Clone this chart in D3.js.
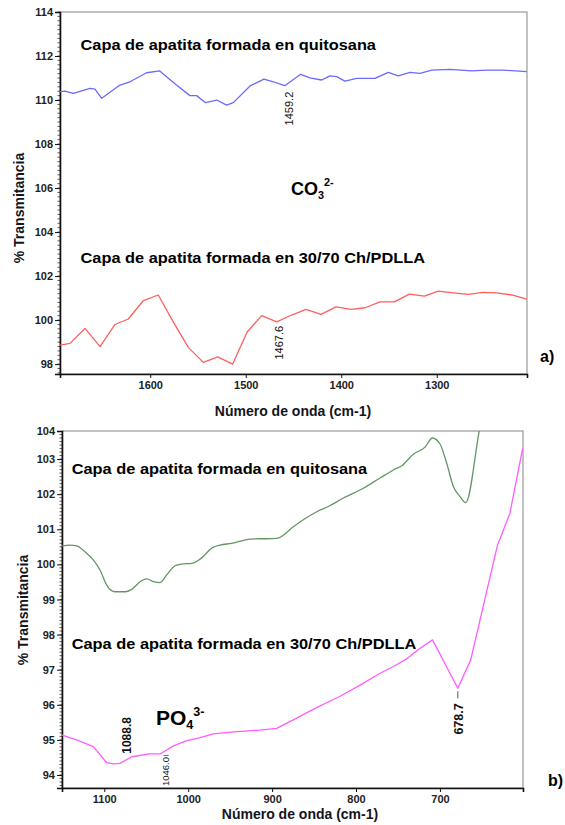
<!DOCTYPE html>
<html>
<head>
<meta charset="utf-8">
<script src="https://cdn.jsdelivr.net/npm/d3@7"></script>
<style>
  html, body { margin: 0; padding: 0; background: #fff; }
  svg { display: block; font-family: "Liberation Sans", Arial, sans-serif; }
</style>
</head>
<body>
<svg id="fig" width="565" height="825"></svg>
<script>
// ---------- Panel a) carbonate region ----------
const blueWn = [1694.5,1689.3,1680.6,1663.1,1657.9,1650.8,1631.7,1621.3,1603.7,1590.1,1572.6,1558.4,1551.4,1542.1,1530.4,1520.0,1513.0,1495.5,1480.9,1471.1,1459.2,1442.5,1432.8,1420.5,1411.8,1404.8,1396.1,1383.9,1364.7,1350.7,1340.3,1328.0,1317.5,1305.3,1286.1,1263.4,1247.7,1230.3,1205.8];
const blueT  = [110.38,110.40,110.30,110.53,110.50,110.08,110.68,110.83,111.24,111.32,110.68,110.20,110.20,109.88,110.00,109.77,109.88,110.64,110.95,110.83,110.65,111.17,111.01,110.91,111.10,111.06,110.86,110.98,110.98,111.26,111.10,111.26,111.21,111.36,111.39,111.32,111.36,111.36,111.29];

const redWn = [1694.5,1684.0,1668.3,1652.6,1636.9,1623.0,1607.3,1591.6,1575.9,1560.2,1544.4,1529.4,1513.7,1498.4,1483.3,1467.6,1451.9,1436.9,1421.2,1405.5,1389.8,1375.1,1359.4,1344.4,1328.7,1313.0,1298.3,1282.6,1266.8,1251.8,1237.2,1221.4,1205.8];
const redT  = [98.86,98.94,99.62,98.79,99.80,100.05,100.88,101.14,99.92,98.76,98.08,98.33,98.00,99.47,100.20,99.92,100.23,100.49,100.26,100.60,100.49,100.56,100.83,100.83,101.18,101.09,101.32,101.24,101.17,101.26,101.24,101.14,100.95];

const topXTicks = [1600, 1500, 1400, 1300];
const topYTicks = [98, 100, 102, 104, 106, 108, 110, 112, 114];

// ---------- Panel b) phosphate region ----------
const greenWn = [1150.4,1140.9,1132.9,1123.0,1113.1,1105.1,1097.1,1087.2,1075.3,1067.3,1055.4,1049.4,1041.6,1033.6,1025.6,1015.7,1007.7,995.8,985.9,970.1,962.1,948.1,926.3,914.4,906.4,894.5,874.7,862.8,846.8,833.0,815.1,791.3,771.4,755.5,745.5,731.7,717.7,709.0,699.9,691.9,684.0,676.0,669.2,653.0,647.4];
const greenT  = [100.53,100.55,100.53,100.36,100.13,99.84,99.41,99.22,99.22,99.29,99.54,99.59,99.51,99.48,99.70,99.96,100.01,100.03,100.15,100.49,100.55,100.60,100.72,100.73,100.73,100.74,101.07,101.27,101.50,101.65,101.89,102.17,102.46,102.69,102.81,103.14,103.34,103.60,103.43,102.88,102.22,101.93,101.76,103.83,104.54];

const pinkWn = [1150.4,1132.9,1113.1,1097.1,1088.8,1081.3,1067.3,1046.0,1033.6,1017.5,1001.8,987.9,970.1,946.2,914.4,894.5,874.7,848.9,820.2,795.2,771.4,755.5,739.6,723.7,708.8,678.7,663.3,631.6,616.6,601.3];
const pinkT  = [95.14,95.00,94.81,94.35,94.32,94.33,94.52,94.60,94.60,94.83,94.98,95.05,95.17,95.23,95.28,95.33,95.57,95.90,96.23,96.56,96.90,97.09,97.31,97.61,97.85,96.47,97.28,100.53,101.46,103.31];

const botXTicks = [1100, 1000, 900, 800, 700];
const botYTicks = [94, 95, 96, 97, 98, 99, 100, 101, 102, 103, 104];

const FONT = '"Liberation Sans", Arial, sans-serif';
const svg = d3.select('#fig');

function zip(wn, t) { return wn.map((w, i) => ({ wn: w, t: t[i] })); }
function valueAt(wn, t, w) { return t[wn.indexOf(w)]; }

function panel(opts) {
  const { left, right, top, bottom, xDomain, yDomain, xTicks, yTicks, minorStep, clipId } = opts;
  const x = d3.scaleLinear().domain(xDomain).range([left, right]);
  const y = d3.scaleLinear().domain(yDomain).range([bottom, top]);
  const yAxisScale = y.copy().clamp(true);
  const g = svg.append('g');

  // plot frame
  g.append('rect')
    .attr('x', left).attr('y', top)
    .attr('width', right - left).attr('height', bottom - top)
    .attr('fill', '#fff').attr('stroke', '#9a9a9a').attr('stroke-width', 1.2);

  g.append('clipPath').attr('id', clipId)
    .append('rect').attr('x', left).attr('y', top)
    .attr('width', right - left).attr('height', bottom - top);

  // minor ticks on the transmittance axis
  const minor = d3.range(yDomain[0], yDomain[1] + 1e-9, minorStep)
    .map(v => Math.round(v / minorStep) * minorStep)
    .filter(v => v >= yDomain[0] && v <= yDomain[1]);
  g.append('g').selectAll('line').data(minor).join('line')
    .attr('x1', left - 2.5).attr('x2', left)
    .attr('y1', d => y(d)).attr('y2', d => y(d))
    .attr('stroke', '#333').attr('stroke-width', 0.8);

  const yAx = g.append('g').attr('transform', `translate(${left},0)`)
    .call(d3.axisLeft(yAxisScale).tickValues(yTicks).tickSize(5).tickPadding(2).tickFormat(d3.format('d')));
  yAx.select('.domain').attr('stroke', '#111').attr('stroke-width', 1.6);
  yAx.selectAll('.tick line').attr('stroke', '#111').attr('stroke-width', 1);
  yAx.selectAll('text').attr('font-family', FONT).attr('font-size', 11)
    .attr('font-weight', 'bold').attr('fill', '#222');

  const xAx = g.append('g').attr('transform', `translate(0,${bottom})`)
    .call(d3.axisBottom(x).tickValues(xTicks).tickSize(4).tickPadding(3).tickFormat(d3.format('d')));
  xAx.select('.domain').attr('stroke', '#111').attr('stroke-width', 1.6);
  xAx.selectAll('.tick line').attr('stroke', '#111').attr('stroke-width', 1);
  xAx.selectAll('text').attr('font-family', FONT).attr('font-size', 11)
    .attr('font-weight', 'bold').attr('fill', '#222');

  return { x, y, g };
}

function drawLine(p, wn, t, color, curve, clipId) {
  p.g.append('path')
    .datum(zip(wn, t))
    .attr('clip-path', `url(#${clipId})`)
    .attr('fill', 'none').attr('stroke', color).attr('stroke-width', 1.3)
    .attr('stroke-linejoin', 'round')
    .attr('d', d3.line().x(d => p.x(d.wn)).y(d => p.y(d.t)).curve(curve));
}

// wide bold caption above each spectrum
function caption(x, y, text) {
  svg.append('text')
    .attr('transform', `translate(${x},${y}) scale(1.17,1)`)
    .attr('font-family', FONT).attr('font-size', 14).attr('font-weight', 'bold')
    .attr('fill', '#000').text(text);
}

// vertical peak label; `topY` is where the text starts (its upper end)
function peakLabel(px, topY, text, size, weight) {
  svg.append('text')
    .attr('transform', `translate(${px},${topY}) rotate(-90)`)
    .attr('text-anchor', 'end').attr('dy', '0.35em')
    .attr('font-family', FONT).attr('font-size', size).attr('font-weight', weight)
    .attr('fill', '#111').text(text);
}

function yTitle(cx, cy) {
  svg.append('text')
    .attr('transform', `translate(${cx},${cy}) rotate(-90)`)
    .attr('text-anchor', 'middle').attr('dy', '0.35em')
    .attr('font-family', FONT).attr('font-size', 14).attr('font-weight', 'bold')
    .attr('fill', '#141420').text('% Transmitancia');
}

function xTitle(cx, by) {
  svg.append('text')
    .attr('x', cx).attr('y', by).attr('text-anchor', 'middle')
    .attr('font-family', FONT).attr('font-size', 14).attr('font-weight', 'bold')
    .attr('fill', '#141420').text('Número de onda (cm-1)');
}

function ion(x, y, base, sub, sup, size, weight) {
  const t = svg.append('text').attr('x', x).attr('y', y)
    .attr('font-family', FONT).attr('font-weight', weight).attr('fill', '#000');
  t.append('tspan').attr('font-size', size).text(base);
  t.append('tspan').attr('font-size', size * 0.6).attr('dy', 4).text(sub);
  t.append('tspan').attr('font-size', size * 0.6).attr('dy', -13).text(sup);
}

// ===== Panel a =====
const pa = panel({
  left: 60, right: 527, top: 12, bottom: 374,
  xDomain: [1694.5, 1205.5], yDomain: [97.55, 114],
  xTicks: topXTicks, yTicks: topYTicks, minorStep: 0.2, clipId: 'clipA'
});
drawLine(pa, blueWn, blueT, '#6a6aff', d3.curveLinear, 'clipA');
drawLine(pa, redWn, redT, '#ff5f5f', d3.curveLinear, 'clipA');

caption(80.5, 50, 'Capa de apatita formada en quitosana');
caption(80.5, 263, 'Capa de apatita formada en 30/70 Ch/PDLLA');
ion(291, 195, 'CO', '3', '2-', 18, 'bold');

peakLabel(pa.x(1459.2) + 4, pa.y(valueAt(blueWn, blueT, 1459.2)) + 6, '1459.2', 11, 'normal');
peakLabel(pa.x(1467.6) + 2.6, pa.y(valueAt(redWn, redT, 1467.6)) + 4, '1467.6', 11, 'normal');

yTitle(19, 208);
xTitle(293, 416);
svg.append('text').attr('x', 540).attr('y', 362)
  .attr('font-family', FONT).attr('font-size', 16).attr('font-weight', 'bold').text('a)');

// ===== Panel b =====
const pb = panel({
  left: 62, right: 523, top: 431, bottom: 788,
  xDomain: [1150.4, 601], yDomain: [93.63, 103.8],
  xTicks: botXTicks, yTicks: botYTicks, minorStep: 0.1, clipId: 'clipB'
});
drawLine(pb, greenWn, greenT, '#639663', d3.curveMonotoneX, 'clipB');
drawLine(pb, pinkWn, pinkT, '#ff5cff', d3.curveLinear, 'clipB');

caption(71.7, 474, 'Capa de apatita formada en quitosana');
caption(71.7, 649, 'Capa de apatita formada en 30/70 Ch/PDLLA');
ion(156, 725, 'PO', '4', '3-', 21, 'bold');

// 1088.8 label sits up and to the right of the minimum
{
  const px = pb.x(1088.8), py = pb.y(valueAt(pinkWn, pinkT, 1088.8));
  svg.append('text')
    .attr('transform', `translate(${px + 13},${py - 10}) rotate(-90)`)
    .attr('text-anchor', 'start').attr('dy', '0.35em')
    .attr('font-family', FONT).attr('font-size', 12).attr('font-weight', 'bold')
    .attr('fill', '#111').text('1088.8');
}
// 1046.0 label with its small marker
{
  const px = pb.x(1046.0) + 16.5, py = pb.y(valueAt(pinkWn, pinkT, 1046.0));
  svg.append('line').attr('x1', px - 2.5).attr('x2', px + 2.5)
    .attr('y1', py + 1.5).attr('y2', py + 1.5).attr('stroke', '#444').attr('stroke-width', 0.8);
  peakLabel(px, py + 3, '1046.0', 9.5, 'normal');
}
// 678.7 label with a short pointer below the minimum
{
  const px = pb.x(678.7), py = pb.y(valueAt(pinkWn, pinkT, 678.7));
  svg.append('line').attr('x1', px).attr('x2', px)
    .attr('y1', py + 3).attr('y2', py + 10).attr('stroke', '#555').attr('stroke-width', 1);
  peakLabel(px + 1, py + 15, '678.7', 12.5, 'bold');
}

yTitle(23, 610);
xTitle(300, 819);
svg.append('text').attr('x', 548).attr('y', 786)
  .attr('font-family', FONT).attr('font-size', 16).attr('font-weight', 'bold').text('b)');
</script>
</body>
</html>
